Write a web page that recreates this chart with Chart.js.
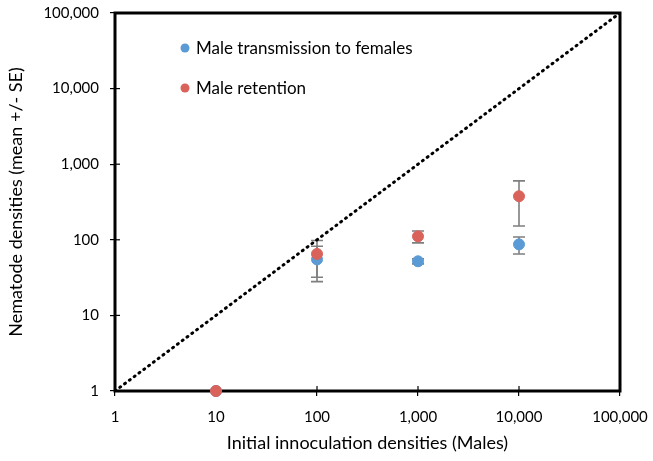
<!DOCTYPE html>
<html>
<head>
<meta charset="utf-8">
<script src="https://cdn.jsdelivr.net/npm/chart.js@4.4.0/dist/chart.umd.min.js"></script>
<style>
  html, body { margin: 0; padding: 0; background: #fff; }
  #wrap { width: 653px; height: 461px; }
</style>
</head>
<body>
<div id="wrap"><canvas id="chart" width="653" height="461"></canvas></div>
<script>
// data
const xDensities = [10, 100, 1000, 10000];
const transmissionMeans = [1, 55, 52, 87];
const transmissionSE = [0, 27, 4, 22];
const retentionMeans = [1, 65, 111, 377];
const retentionSE = [0, 33, 20, 225];
const axisTicks = [1, 10, 100, 1000, 10000, 100000];
const seriesNames = ['Male transmission to females', 'Male retention'];
const seriesColors = ['#5B9BD5', '#D9625B'];

var fontFam = 'Lato, "Open Sans", sans-serif';

function toPoints(means, se) {
    var pts = [];
    xDensities.forEach(function (x, i) {
        pts.push({ x: x, y: means[i], se: se[i] });
    });
    return pts;
}

// keep the plot box fixed, ignore label overhang
function fixBox(s, size) {
    if (s.isHorizontal()) s.height = size; else s.width = size;
    s.paddingTop = 0; s.paddingBottom = 0; s.paddingLeft = 0; s.paddingRight = 0;
}

// error bars, frame, inner tick marks and legend
var extras = {
    id: 'extras',
    beforeDatasetsDraw: function (chart) {
        var ctx = chart.ctx, a = chart.chartArea;
        var xs = chart.scales.x, ys = chart.scales.y;
        ctx.save();
        ctx.strokeStyle = '#000';
        ctx.lineWidth = 3;
        ctx.strokeRect(a.left, a.top, a.right - a.left, a.bottom - a.top);
        ctx.lineWidth = 1.2;
        axisTicks.forEach(function (t) {
            var px = xs.getPixelForValue(t);
            ctx.beginPath(); ctx.moveTo(px, a.bottom); ctx.lineTo(px, a.bottom - 5); ctx.stroke();
            var py = ys.getPixelForValue(t);
            ctx.beginPath(); ctx.moveTo(a.left, py); ctx.lineTo(a.left + 5, py); ctx.stroke();
        });
        // error bars
        ctx.strokeStyle = '#7f7f7f';
        ctx.lineWidth = 1.6;
        [1, 2].forEach(function (di) {
            chart.data.datasets[di].data.forEach(function (p) {
                if (!p.se) return;
                var px = xs.getPixelForValue(p.x);
                var top = ys.getPixelForValue(p.y + p.se);
                var bot = ys.getPixelForValue(Math.max(p.y - p.se, 0.5));
                ctx.beginPath();
                ctx.moveTo(px, top); ctx.lineTo(px, bot);
                ctx.moveTo(px - 6, top); ctx.lineTo(px + 6, top);
                ctx.moveTo(px - 6, bot); ctx.lineTo(px + 6, bot);
                ctx.stroke();
            });
        });
        ctx.restore();
    },
    afterDraw: function (chart) {
        var ctx = chart.ctx, a = chart.chartArea;
        ctx.save();
        ctx.font = '17px ' + fontFam;
        ctx.textBaseline = 'middle';
        seriesNames.forEach(function (name, i) {
            var y = a.top + 35 + i * 40;
            ctx.fillStyle = seriesColors[i];
            ctx.beginPath(); ctx.arc(a.left + 70, y, 4.5, 0, Math.PI * 2); ctx.fill();
            ctx.fillStyle = '#000';
            ctx.fillText(name, a.left + 81, y + 1);
        });
        ctx.restore();
    }
};

new Chart(document.getElementById('chart'), {
    type: 'scatter',
    data: {
        datasets: [{
            type: 'line',
            label: 'diagonal',
            data: [{ x: 1, y: 1 }, { x: 100000, y: 100000 }],
            borderColor: '#000',
            borderWidth: 3,
            borderDash: [1, 5],
            borderCapStyle: 'round',
            pointRadius: 0,
            fill: false,
            order: 3
        }, {
            label: seriesNames[0],
            data: toPoints(transmissionMeans, transmissionSE),
            backgroundColor: seriesColors[0],
            borderColor: seriesColors[0],
            pointRadius: 5.5,
            clip: false,
            order: 2
        }, {
            label: seriesNames[1],
            data: toPoints(retentionMeans, retentionSE),
            backgroundColor: seriesColors[1],
            borderColor: seriesColors[1],
            pointRadius: 5.5,
            clip: false,
            order: 1
        }]
    },
    options: {
        responsive: false,
        animation: false,
        devicePixelRatio: 1,
        layout: { padding: { top: 13, right: 33, left: 0, bottom: 0 } },
        plugins: { legend: { display: false }, tooltip: { enabled: false } },
        scales: {
            x: {
                type: 'logarithmic',
                min: 1, max: 100000,
                afterBuildTicks: function (s) { s.ticks = axisTicks.map(function (v) { return { value: v }; }); },
                afterFit: function (s) { fixBox(s, 70); },
                grid: { drawOnChartArea: false, drawTicks: true, tickLength: 5, color: '#000', lineWidth: 1.2 },
                border: { display: false },
                ticks: {
                    color: '#000', font: { family: fontFam, size: 15 }, padding: 12,
                    maxRotation: 0, autoSkip: false,
                    callback: function (v) { return Number(v).toLocaleString('en-US'); }
                },
                title: {
                    display: true, text: 'Initial innoculation densities (Males)', color: '#000',
                    font: { family: fontFam, size: 18 }, padding: { top: 2, bottom: 7 }
                }
            },
            y: {
                type: 'logarithmic',
                min: 1, max: 100000,
                afterBuildTicks: function (s) { s.ticks = axisTicks.map(function (v) { return { value: v }; }); },
                afterFit: function (s) { fixBox(s, 115); },
                grid: { drawOnChartArea: false, drawTicks: true, tickLength: 5, color: '#000', lineWidth: 1.2 },
                border: { display: false },
                ticks: {
                    color: '#000', font: { family: fontFam, size: 15 }, padding: 11, autoSkip: false,
                    callback: function (v) { return Number(v).toLocaleString('en-US'); }
                },
                title: {
                    display: true, text: 'Nematode densities (mean +/- SE)', color: '#000',
                    font: { family: fontFam, size: 18 }, padding: { top: 5, bottom: 4 }
                }
            }
        }
    },
    plugins: [extras]
});
</script>
</body>
</html>
